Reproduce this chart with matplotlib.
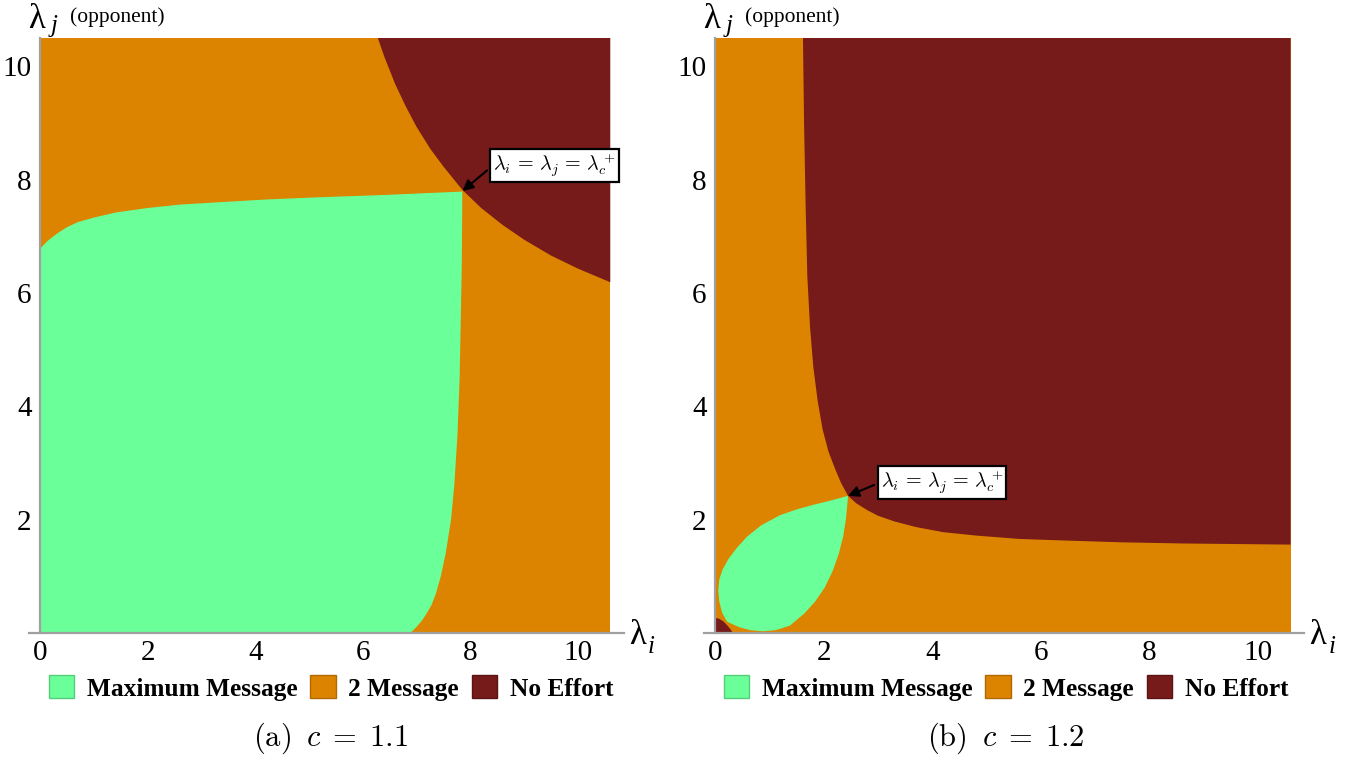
import matplotlib
matplotlib.use("Agg")
from matplotlib import pyplot as plt
from matplotlib.patches import Patch

plt.rcParams["mathtext.fontset"] = "cm"
plt.rcParams["font.family"] = ["Liberation Serif", "DejaVu Serif"]

# colours of the three regions
GREEN = "#6BFF99"
ORANGE = "#DC8400"
DARKRED = "#771A1A"
AXIS_GREY = "#A0A0A0"

X_MAX = 10.6
Y_MAX = 10.5

# ---- panel (a), c = 1.1 : boundaries
a_noeffort_x = [6.28, 6.4, 6.6, 6.8, 7.0, 7.25, 7.5, 7.85, 8.2, 8.6, 9.0, 9.5, 10.0, 10.6]
a_noeffort_y = [10.5, 10.17, 9.69, 9.29, 8.93, 8.55, 8.23, 7.82, 7.5, 7.2, 6.94, 6.66, 6.43, 6.19]

a_maxmsg_top_x = [0.0, 0.05, 0.12, 0.22, 0.35, 0.5, 0.7, 1.0, 1.4, 2.0, 2.6, 3.3, 4.2, 5.2, 6.4, 7.85]
a_maxmsg_top_y = [6.78, 6.83, 6.9, 6.98, 7.07, 7.16, 7.25, 7.33, 7.42, 7.5, 7.56, 7.6, 7.65, 7.69, 7.73, 7.79]
a_maxmsg_right_x = [7.84, 7.82, 7.8, 7.76, 7.7, 7.64, 7.54, 7.45, 7.36, 7.28, 7.19, 7.1, 7.01, 6.94, 6.88]
a_maxmsg_right_y = [6.5, 5.5, 4.5, 3.5, 2.6, 2.0, 1.4, 1.0, 0.7, 0.5, 0.35, 0.22, 0.12, 0.05, 0.0]
a_tip = (7.85, 7.8)

# ---- panel (b), c = 1.2
b_noeffort_x = [1.62, 1.64, 1.67, 1.70, 1.75, 1.81, 1.89, 1.98, 2.09, 2.21, 2.32, 2.45,
                2.6, 2.8, 3.0, 3.3, 3.7, 4.2, 4.8, 5.6, 6.5, 7.5, 8.6, 9.6, 10.6]
b_noeffort_y = [10.5, 9.0, 7.5, 6.3, 5.4, 4.7, 4.1, 3.6, 3.2, 2.9, 2.65, 2.42,
                2.29, 2.17, 2.07, 1.97, 1.87, 1.78, 1.72, 1.66, 1.63, 1.6, 1.58, 1.57, 1.56]

b_maxmsg_x = [2.45, 2.44, 2.41, 2.36, 2.28, 2.17, 2.02, 1.84, 1.64, 1.38, 1.12, 0.88, 0.65,
              0.45, 0.22, 0.13, 0.08, 0.06, 0.08, 0.14, 0.25, 0.4, 0.59, 0.85, 1.2, 1.5,
              1.8, 2.1]
b_maxmsg_y = [2.42, 2.3, 2.0, 1.7, 1.4, 1.1, 0.8, 0.55, 0.34, 0.13, 0.05, 0.03, 0.05,
              0.1, 0.2, 0.36, 0.55, 0.75, 0.95, 1.12, 1.31, 1.5, 1.7, 1.9, 2.08, 2.18,
              2.26, 2.33]

b_corner_x = [0.0, 0.0, 0.08, 0.16, 0.23, 0.29, 0.33]
b_corner_y = [0.0, 0.27, 0.25, 0.2, 0.13, 0.06, 0.0]
b_tip = (2.45, 2.42)

X_TICKS = [0, 2, 4, 6, 8, 10]
Y_TICKS = [2, 4, 6, 8, 10]
LEGEND_LABELS = ["Maximum Message", "2 Message", "No Effort"]
CAPTIONS = [r"$\mathrm{(a)}\;\;c\;=\;1.1$", r"$\mathrm{(b)}\;\;c\;=\;1.2$"]

W, H = 1356, 758
fig = plt.figure(figsize=(W / 100, H / 100), dpi=100)


def make_axes(x0_px, px_per_unit):
    # axes placed so that data 0 lands on x0_px and y=0 on pixel row 633
    left = x0_px - 0.2 * px_per_unit
    width = 11.05 * px_per_unit
    bottom = H - 633
    height = 595
    ax = fig.add_axes([left / W, bottom / H, width / W, height / H])
    ax.set_xlim(-0.2, 10.85)
    ax.set_ylim(0, Y_MAX)
    for s in ["top", "right"]:
        ax.spines[s].set_visible(False)
    ax.spines["left"].set_position(("data", 0))
    for s in ["left", "bottom"]:
        ax.spines[s].set_color(AXIS_GREY)
        ax.spines[s].set_linewidth(1.6)
        ax.spines[s].set_zorder(5)
    ax.set_xticks(X_TICKS)
    ax.set_yticks(Y_TICKS)
    ax.tick_params(length=0, labelsize=21, pad=6)
    ax.tick_params(axis="x", pad=5)
    ax.patch.set_alpha(0)
    return ax


def axis_labels(ax):
    ax.text(-0.22, 10.68, "λ", fontsize=25, ha="left", va="baseline", clip_on=False)
    ax.text(0.2, 10.6, "j", fontsize=18, style="italic", ha="left", va="baseline", clip_on=False)
    ax.text(0.55, 10.78, "(opponent)", fontsize=15.5, ha="left", va="baseline", clip_on=False)
    ax.text(10.95, -0.2, "λ", fontsize=25, ha="left", va="baseline", clip_on=False)
    ax.text(11.3, -0.36, "i", fontsize=18, style="italic", ha="left", va="baseline", clip_on=False)


def tip_label(ax, tip, box_xy):
    ax.annotate(r"$\lambda_i \,=\, \lambda_j \,=\, \lambda_c^+$", xy=tip, xytext=box_xy,
                ha="left", va="center", fontsize=14.5, zorder=6,
                bbox=dict(boxstyle="square,pad=0.15", fc="white", ec="black", lw=1.6),
                arrowprops=dict(arrowstyle="-|>", color="black", lw=1.5,
                                mutation_scale=16, relpos=(0, 0.5), shrinkB=0))


# ---- panel (a)
ax1 = make_axes(40, 53.8)
ax1.fill_between([0, X_MAX], 0, Y_MAX, color=ORANGE, lw=0)
ax1.fill(a_noeffort_x + [X_MAX], a_noeffort_y + [Y_MAX], color=DARKRED, lw=0)
ax1.fill([0.0] + a_maxmsg_top_x + a_maxmsg_right_x,
         [0.0] + a_maxmsg_top_y + a_maxmsg_right_y, color=GREEN, lw=0)
axis_labels(ax1)
tip_label(ax1, a_tip, (8.42, 8.25))

# ---- panel (b)
ax2 = make_axes(715, 54.3)
ax2.fill_between([0, X_MAX], 0, Y_MAX, color=ORANGE, lw=0)
ax2.fill(b_noeffort_x + [X_MAX], b_noeffort_y + [Y_MAX], color=DARKRED, lw=0)
ax2.fill(b_maxmsg_x, b_maxmsg_y, color=GREEN, lw=0)
ax2.fill(b_corner_x, b_corner_y, color=DARKRED, lw=0)
axis_labels(ax2)
tip_label(ax2, b_tip, (3.05, 2.66))

# ---- legends and captions
handles = [Patch(facecolor=c, edgecolor=e, lw=1.0) for c, e in
           [(GREEN, "#55CC7A"), (ORANGE, "#B06A00"), (DARKRED, "#5A1414")]]
for cx, cap in zip([331, 1006], CAPTIONS):
    fig.legend(handles, LEGEND_LABELS, loc="center", bbox_to_anchor=(cx / W, (H - 688) / H),
               ncol=3, frameon=False, handlelength=1.0, handleheight=1.0,
               handletextpad=0.5, columnspacing=0.5,
               prop={"family": "Liberation Serif", "weight": "bold", "size": 18.3})
    fig.text(cx / W, (H - 738) / H, cap, fontsize=22, ha="center", va="center")

fig.savefig("out.png", dpi=100)
